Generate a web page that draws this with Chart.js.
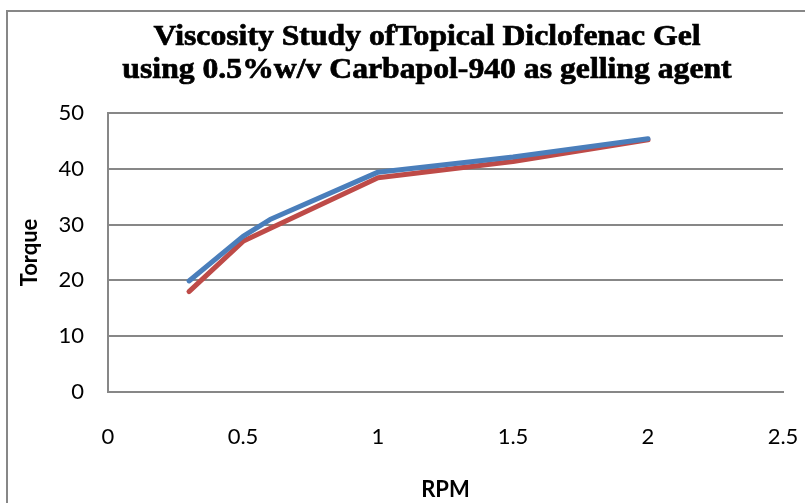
<!DOCTYPE html>
<html>
<head>
<meta charset="utf-8">
<script src="https://cdn.jsdelivr.net/npm/chart.js@4.4.1/dist/chart.umd.min.js"></script>
<style>
  html, body { margin: 0; padding: 0; background: #fff; }
  #wrap { position: relative; width: 805px; height: 503px; }
</style>
</head>
<body>
<div id="wrap"><canvas id="viscosityChart" width="805" height="503"></canvas></div>
<script>
// RPM values for each reading
const rpm = [0.3, 0.5, 0.6, 1, 1.5, 2];
// Torque readings of the two series
const torqueBlue = [19.9, 27.9, 30.9, 39.4, 42.1, 45.4];
const torqueRed = [18.0, 27.0, 29.3, 38.4, 41.3, 45.2];
const xTicks = [0, 0.5, 1, 1.5, 2, 2.5];
const yTicks = [0, 10, 20, 30, 40, 50];
const titleLines = ['Viscosity Study ofTopical Diclofenac Gel', 'using 0.5%w/v Carbapol-940 as gelling agent'];

const toPoints = (xs, ys) => xs.map((x, i) => ({ x: x, y: ys[i] }));

// outer frame of the chart object (runs off the right and bottom edges)
const framePlugin = {
    id: 'frame',
    beforeDraw(chart) {
        const c = chart.ctx;
        c.save();
        c.fillStyle = '#fff';
        c.fillRect(0, 0, chart.width, chart.height);
        c.strokeStyle = '#878787';
        c.lineWidth = 2;
        c.strokeRect(7, 11, 820, 520);
        c.restore();
    }
};

// heavy serif title, centred on the full (cropped) chart object
const titlePlugin = {
    id: 'serifTitle',
    afterDraw(chart) {
        const c = chart.ctx;
        c.save();
        c.font = 'bold 30px "Liberation Serif", "Times New Roman", serif';
        c.fillStyle = '#000';
        c.strokeStyle = '#000';
        c.lineWidth = 0.7;
        c.textAlign = 'center';
        c.textBaseline = 'alphabetic';
        const sx = 547 / c.measureText(titleLines[0]).width;
        const baselines = [45, 78];
        titleLines.forEach((t, i) => {
            c.save();
            c.translate(427, baselines[i]);
            c.scale(sx, 1);
            c.fillText(t, 0, 0);
            c.strokeText(t, 0, 0);
            c.restore();
        });
        c.restore();
    }
};

Chart.defaults.font.family = 'Lato, "Open Sans", sans-serif';
Chart.defaults.color = '#000';

new Chart(document.getElementById('viscosityChart').getContext('2d'), {
    type: 'line',
    data: {
        datasets: [
            {
                label: 'Series 1',
                data: toPoints(rpm, torqueBlue),
                borderColor: '#4a7ebb',
                borderWidth: 5,
                borderCapStyle: 'round',
                borderJoinStyle: 'round',
                pointRadius: 0,
                fill: false,
                tension: 0
            },
            {
                label: 'Series 2',
                data: toPoints(rpm, torqueRed),
                borderColor: '#be4b48',
                borderWidth: 5,
                borderCapStyle: 'round',
                borderJoinStyle: 'round',
                pointRadius: 0,
                fill: false,
                tension: 0
            }
        ]
    },
    plugins: [framePlugin, titlePlugin],
    options: {
        responsive: false,
        animation: false,
        layout: { padding: { top: 113, right: 0, bottom: 0, left: 0 } },
        plugins: {
            legend: { display: false },
            tooltip: { enabled: false },
            title: { display: false }
        },
        scales: {
            x: {
                type: 'linear',
                min: 0,
                max: 2.5,
                afterBuildTicks(axis) { axis.ticks = xTicks.map(v => ({ value: v })); },
                afterFit(axis) {
                    axis.height = 111;
                    axis.paddingRight = 22;
                    axis.paddingLeft = 0;
                },
                grid: { display: false, drawTicks: false },
                border: { display: true, color: '#878787', width: 2 },
                ticks: { padding: 32, font: { size: 22 }, color: '#000', callback: v => String(v) },
                title: { display: true, text: 'RPM', font: { size: 22, weight: 700 }, color: '#000', padding: { top: 0, bottom: 0 } }
            },
            y: {
                type: 'linear',
                min: 0,
                max: 50,
                afterBuildTicks(axis) { axis.ticks = yTicks.map(v => ({ value: v })); },
                afterFit(axis) { axis.width = 108; },
                grid: { color: '#878787', lineWidth: 2, drawTicks: false },
                border: { display: true, color: '#878787', width: 2 },
                ticks: { padding: 24, font: { size: 22 }, color: '#000', callback: v => String(v) },
                title: { display: true, text: 'Torque', font: { size: 22, weight: 700 }, color: '#000', padding: { top: 17, bottom: 0 } }
            }
        }
    }
});
</script>
</body>
</html>
